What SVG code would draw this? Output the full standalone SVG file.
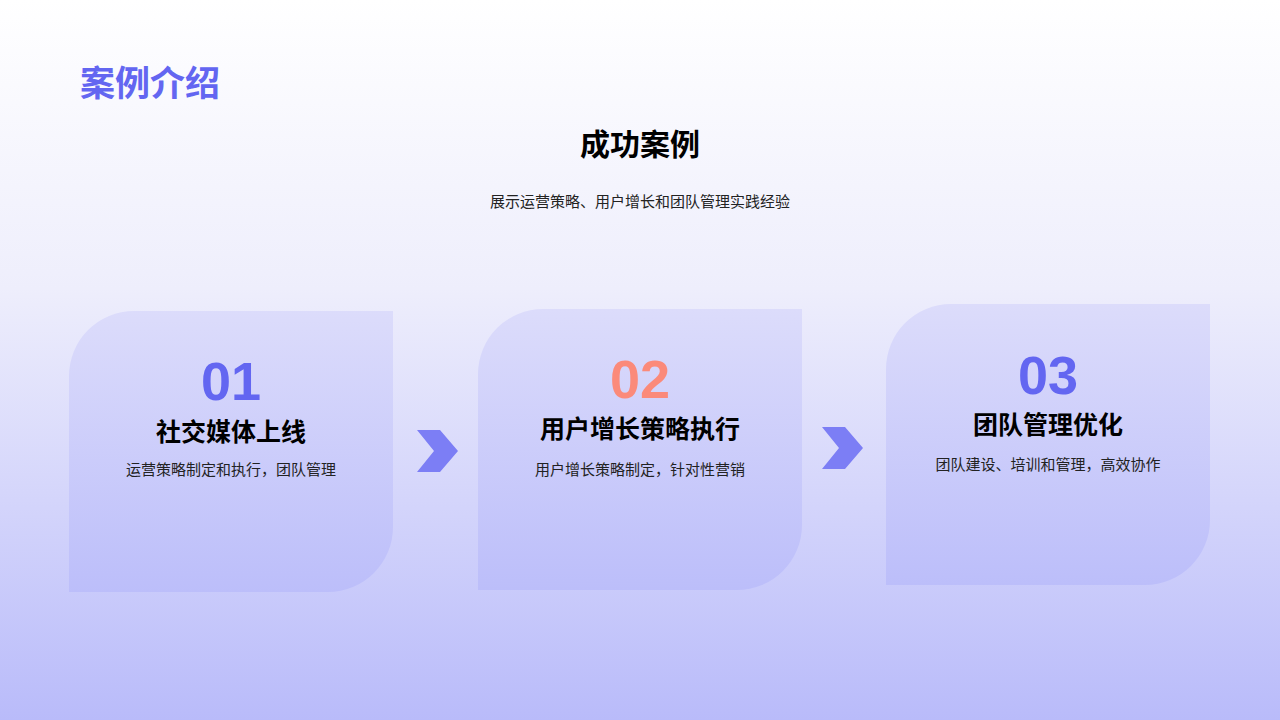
<svg xmlns="http://www.w3.org/2000/svg" width="1280" height="720" viewBox="0 0 1280 720">
<defs>
<linearGradient id="bg" x1="0" y1="0" x2="0" y2="1"><stop offset="0" stop-color="#ffffff"/><stop offset="0.4" stop-color="#eeeefc"/><stop offset="1" stop-color="#b9bbfa"/></linearGradient>
<linearGradient id="card" x1="0" y1="0" x2="0" y2="1"><stop offset="0" stop-color="#dcdcfb"/><stop offset="1" stop-color="#bcbefa"/></linearGradient>
<path id="c" d="M65,0 H324 V216 A65,65 0 0 1 259,281 H0 V65 A65,65 0 0 1 65,0 Z" fill="url(#card)"/>
<polygon id="chev" points="0,0 23,0 41,21 23,42 0,42 17,21" fill="#7c7ef5"/>
</defs>
<style>
text{font-family:"Noto Sans CJK SC","Liberation Sans",sans-serif;text-anchor:middle}
.n{font-family:"Liberation Sans",sans-serif;font-weight:bold;font-size:54px}
.t{font-weight:bold;font-size:25px;fill:#000}
.d{font-size:15px;fill:#222}
</style>
<rect width="1280" height="720" fill="url(#bg)"/>
<text x="80" y="96" style="text-anchor:start;font-weight:bold;font-size:35px;fill:#6366f1">案例介绍</text>
<text x="640" y="155" style="font-weight:bold;font-size:30px;fill:#000">成功案例</text>
<text x="640" y="207" class="d">展示运营策略、用户增长和团队管理实践经验</text>
<g id="card1"><use href="#c" x="69" y="311"/><text x="231" y="400" class="n" fill="#6366f1">01</text><text x="231" y="441" class="t">社交媒体上线</text><text x="231" y="475" class="d">运营策略制定和执行，团队管理</text></g>
<g id="card2"><use href="#c" x="478" y="309"/><text x="640" y="398" class="n" fill="#fb8a7a">02</text><text x="640" y="438" class="t">用户增长策略执行</text><text x="640" y="475" class="d">用户增长策略制定，针对性营销</text></g>
<g id="card3"><use href="#c" x="886" y="304"/><text x="1048" y="394" class="n" fill="#6366f1">03</text><text x="1048" y="434" class="t">团队管理优化</text><text x="1048" y="470" class="d">团队建设、培训和管理，高效协作</text></g>
<g id="connectors"><use href="#chev" x="417" y="430"/><use href="#chev" x="822" y="427"/></g>
</svg>
